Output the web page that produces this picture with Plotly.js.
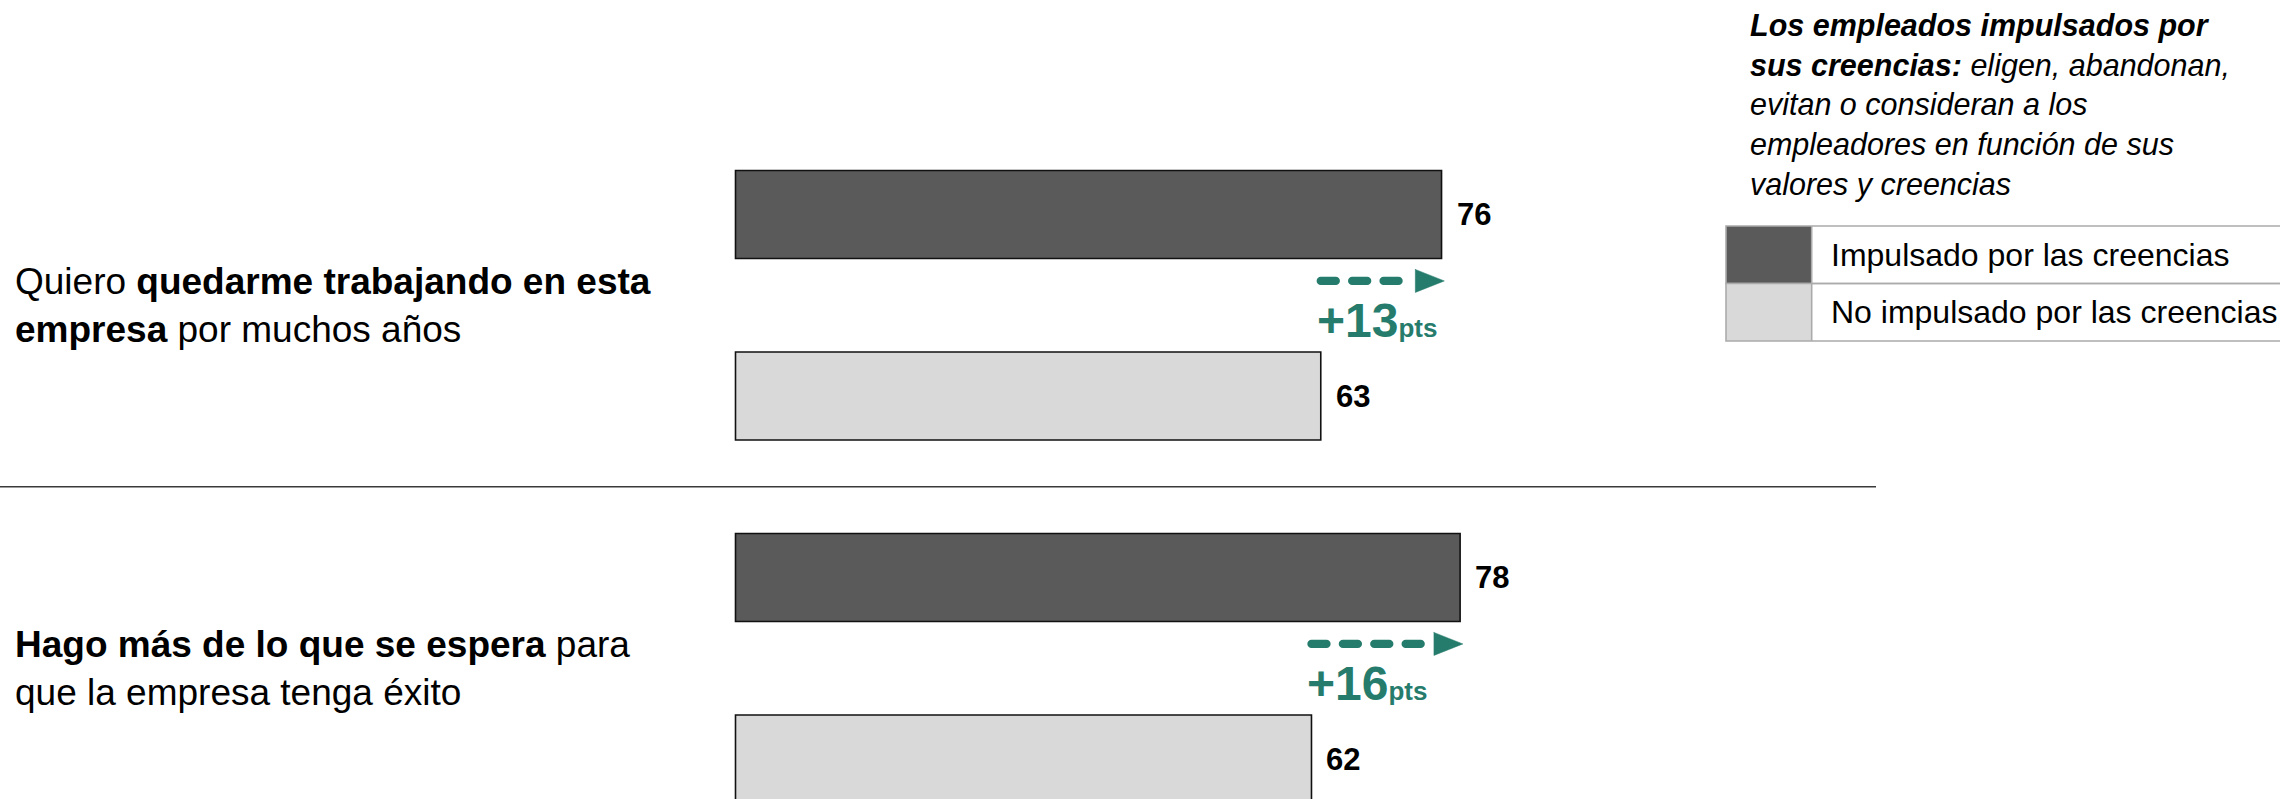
<!DOCTYPE html>
<html>
<head>
<meta charset="utf-8">
<script src="https://cdn.plot.ly/plotly-3.0.1.min.js"></script>
<style>
html, body { margin: 0; padding: 0; background: #ffffff; }
#chart { width: 2280px; height: 799px; }
.scatterlayer .js-line { stroke-linecap: round !important; }
</style>
</head>
<body>
<div id="chart"></div>
<script>
// ---------- data ----------
const categories = [
  'Quiero <b>quedarme trabajando en esta</b><br><b>empresa</b> por muchos años',
  '<b>Hago más de lo que se espera</b> para<br>que la empresa tenga éxito'
];
const seriesNames = ['Impulsado por las creencias', 'No impulsado por las creencias'];
const impulsado = [76, 78];
const noImpulsado = [63, 62];
const noteText = '<b><i>Los empleados impulsados por<br>sus creencias:</i></b><i> eligen, abandonan,<br>evitan o consideran a los<br>empleadores en función de sus<br>valores y creencias</i>';

// ---------- styles / geometry ----------
const W = 2280, H = 799;
const FONT = 'Liberation Sans, Arial, Helvetica, sans-serif';
const DARK = '#5a5a5a', LIGHT = '#d9d9d9', TEAL = '#267c6c';
const X0PX = 735.5, PXU = 9.29;        // x=0 pixel and px per unit
const YC0 = 305.25, YSTEP = 363;       // first group centre and group spacing in px
const px = v => v / W;
const py = v => 1 - v / H;

const pos = categories.map((c, i) => i);
const series = [impulsado, noImpulsado];
const colors = [DARK, LIGHT];
const slotOffset = [-0.25, 0.25];

const traces = series.map((vals, s) => ({
  type: 'bar',
  orientation: 'h',
  name: seriesNames[s],
  x: vals,
  y: pos,
  marker: { color: colors[s], line: { color: '#111111', width: 1.6 } },
  hoverinfo: 'skip',
  showlegend: false
}));

// dashed arrows from the lower value to the higher one
const arrowY = -0.067;
const tipPad = 0.3;
const headL = 29 / PXU, headH = 11.5 / YSTEP, gapL = 3 / PXU;
pos.forEach(i => {
  const yc = i + arrowY;
  const tip = impulsado[i] + tipPad;
  traces.push({
    type: 'scatter', mode: 'lines',
    x: [noImpulsado[i], tip - headL - gapL],
    y: [yc, yc],
    line: { color: TEAL, width: 8.3, dash: '15px,16.4px' },
    hoverinfo: 'skip', showlegend: false
  });
  traces.push({
    type: 'scatter', mode: 'lines', fill: 'toself', fillcolor: TEAL,
    x: [tip - headL, tip, tip - headL, tip - headL],
    y: [yc - headH, yc, yc + headH, yc - headH],
    line: { color: TEAL, width: 0.5 },
    hoverinfo: 'skip', showlegend: false
  });
});

const annotations = [];
// category labels
categories.forEach((c, i) => {
  annotations.push({
    xref: 'paper', yref: 'y', x: px(13), y: i,
    xanchor: 'left', yanchor: 'middle', align: 'left',
    text: c, showarrow: false,
    font: { family: FONT, size: 37, color: '#000000' }
  });
});
// value labels
series.forEach((vals, s) => {
  vals.forEach((v, i) => {
    annotations.push({
      xref: 'x', yref: 'y', x: v, y: i + slotOffset[s],
      xanchor: 'left', yanchor: 'middle', xshift: 13,
      text: '<b>' + v + '</b>', showarrow: false,
      font: { family: FONT, size: 31, color: '#000000' }
    });
  });
});
// difference labels
pos.forEach(i => {
  const d = impulsado[i] - noImpulsado[i];
  annotations.push({
    xref: 'x', yref: 'y', x: noImpulsado[i], y: i,
    xanchor: 'left', yanchor: 'middle', xshift: -6, yshift: -15,
    text: '<b>+' + d + '<span style="font-size:26px">pts</span></b>', showarrow: false,
    font: { family: FONT, size: 48, color: TEAL }
  });
});
// note
annotations.push({
  xref: 'paper', yref: 'paper', x: px(1748), y: py(6),
  xanchor: 'left', yanchor: 'top', align: 'left',
  text: noteText, showarrow: false,
  font: { family: FONT, size: 30.5, color: '#000000' }
});

// legend table
const LEG_L = 1726, LEG_SW = 1811.7, LEG_TOP = 226, ROW_H = 57.5, LEG_R = 2300;
const shapes = [];
seriesNames.forEach((n, s) => {
  const t = LEG_TOP + s * ROW_H, b = t + ROW_H;
  shapes.push({
    type: 'rect', xref: 'paper', yref: 'paper',
    x0: px(LEG_L), x1: px(LEG_SW), y0: py(b), y1: py(t),
    fillcolor: colors[s], line: { width: 0 }, layer: 'above'
  });
  shapes.push({
    type: 'rect', xref: 'paper', yref: 'paper',
    x0: px(LEG_L), x1: px(LEG_R), y0: py(b), y1: py(t),
    fillcolor: 'rgba(0,0,0,0)', line: { color: '#ababab', width: 1.6 }, layer: 'above'
  });
  annotations.push({
    xref: 'paper', yref: 'paper', x: px(1829), y: py(t + ROW_H / 2),
    xanchor: 'left', yanchor: 'middle', align: 'left',
    text: n, showarrow: false,
    font: { family: FONT, size: 32, color: '#000000' }
  });
});
shapes.push({
  type: 'line', xref: 'paper', yref: 'paper',
  x0: px(LEG_SW), x1: px(LEG_SW), y0: py(LEG_TOP + 2 * ROW_H), y1: py(LEG_TOP),
  line: { color: '#ababab', width: 1.6 }, layer: 'above'
});
// divider between the two statements
shapes.push({
  type: 'line', xref: 'paper', yref: 'y',
  x0: 0, x1: px(1876), y0: 0.5, y1: 0.5,
  line: { color: '#3a3a3a', width: 1.6 }
});

const layout = {
  width: W, height: H,
  margin: { l: 0, r: 0, t: 0, b: 0, pad: 0 },
  paper_bgcolor: '#ffffff', plot_bgcolor: '#ffffff',
  barmode: 'group', bargap: 0, bargroupgap: 0.515,
  xaxis: { range: [-X0PX / PXU, (W - X0PX) / PXU], visible: false, fixedrange: true },
  yaxis: { range: [(H - YC0) / YSTEP, -YC0 / YSTEP], visible: false, fixedrange: true },
  showlegend: false,
  annotations: annotations,
  shapes: shapes,
  font: { family: FONT }
};

Plotly.newPlot('chart', traces, layout, { staticPlot: true, displayModeBar: false });
</script>
</body>
</html>
